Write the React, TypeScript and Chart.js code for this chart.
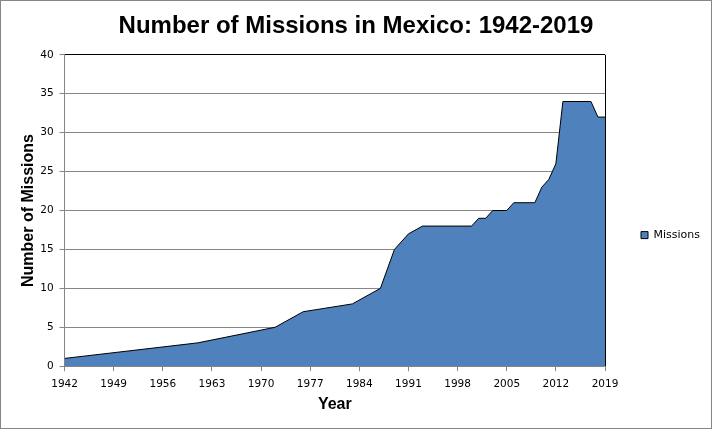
import { useEffect, useRef } from 'react';
import { Chart, registerables } from 'chart.js';
import type { ChartConfiguration } from 'chart.js';

Chart.register(...registerables);

// years where the outline changes direction, and the mission count there
const years = [1942, 1961, 1972, 1976, 1983, 1987, 1989, 1991, 1993, 2000, 2001, 2002, 2003, 2005, 2006, 2009, 2010, 2011, 2012, 2013, 2017, 2018, 2019];
const missions = [1, 3, 5, 7, 8, 10, 15, 17, 18, 18, 19, 19, 20, 20, 21, 21, 23, 24, 26, 34, 34, 32, 32];

const xTicks = [1942, 1949, 1956, 1963, 1970, 1977, 1984, 1991, 1998, 2005, 2012, 2019];
const yTicks = [0, 5, 10, 15, 20, 25, 30, 35, 40];

const GRID = '#868686';
const tickFont = { family: 'DejaVu Sans', size: 10.5 };
const titleFont = { family: 'Liberation Sans', size: 16, weight: 'bold' as const };

export default function App() {
  const chartRef = useRef<HTMLCanvasElement>(null);
  const chartInstance = useRef<Chart | null>(null);

  useEffect(() => {
    if (!chartRef.current) return;
    const ctx = chartRef.current.getContext('2d');
    if (!ctx) return;

    const config: ChartConfiguration<'line'> = {
      type: 'line',
      data: {
        datasets: [
          {
            label: 'Missions',
            data: years.map((x, i) => ({ x, y: missions[i] })),
            borderColor: '#000000',
            borderWidth: 1,
            backgroundColor: '#4f81bd',
            fill: 'origin',
            tension: 0,
            pointRadius: 0,
          },
        ],
      },
      options: {
        animation: false,
        responsive: true,
        maintainAspectRatio: false,
        layout: { padding: { left: 1, right: 1, top: 0, bottom: 10 } },
        plugins: {
          tooltip: { enabled: false },
          title: {
            display: true,
            text: 'Number of Missions in Mexico: 1942-2019',
            color: '#000',
            font: { family: 'Liberation Sans', size: 24, weight: 'bold' },
            padding: { top: 11, bottom: 14 },
          },
          legend: {
            position: 'right',
            title: { display: true, text: '', font: { size: 1 }, padding: { top: 50, bottom: 0 } },
            labels: {
              color: '#000',
              font: { family: 'DejaVu Sans', size: 11 },
              boxWidth: 7,
              boxHeight: 7,
              padding: 36,
            },
          },
        },
        scales: {
          x: {
            type: 'linear',
            min: 1942,
            max: 2019,
            afterBuildTicks: (scale) => {
              scale.ticks = xTicks.map((value) => ({ value }));
            },
            grid: {
              color: (c) => (c.tick && c.tick.value === 2019 ? '#000' : 'rgba(0,0,0,0)'),
              tickColor: GRID,
              tickLength: 5,
            },
            border: { color: GRID },
            ticks: {
              color: '#000',
              font: tickFont,
              padding: 7,
              maxRotation: 0,
              autoSkip: false,
              callback: (v) => String(v),
            },
            title: { display: true, text: 'Year', color: '#000', font: titleFont, padding: { top: -3, bottom: 4 } },
          },
          y: {
            min: 0,
            max: 40,
            afterBuildTicks: (scale) => {
              scale.ticks = yTicks.map((value) => ({ value }));
            },
            grid: {
              color: (c) => (c.tick && c.tick.value === 40 ? '#000' : GRID),
              tickColor: GRID,
              tickLength: 5,
            },
            border: { color: GRID },
            ticks: { color: '#000', font: tickFont, padding: 6, callback: (v) => String(v) },
            title: { display: true, text: 'Number of Missions', color: '#000', font: titleFont, padding: { top: 17, bottom: -4 } },
          },
        },
      },
    };

    if (chartInstance.current) chartInstance.current.destroy();
    chartInstance.current = new Chart(ctx, config);

    return () => {
      if (chartInstance.current) chartInstance.current.destroy();
      chartInstance.current = null;
    };
  }, []);

  return (
    <div
      style={{
        position: 'absolute',
        left: 0,
        top: 0,
        width: 712,
        height: 429,
        boxSizing: 'border-box',
        border: `1px solid ${GRID}`,
        background: '#fff',
      }}
    >
      <div style={{ position: 'relative', width: 710, height: 427 }}>
        <canvas ref={chartRef}></canvas>
      </div>
    </div>
  );
}
